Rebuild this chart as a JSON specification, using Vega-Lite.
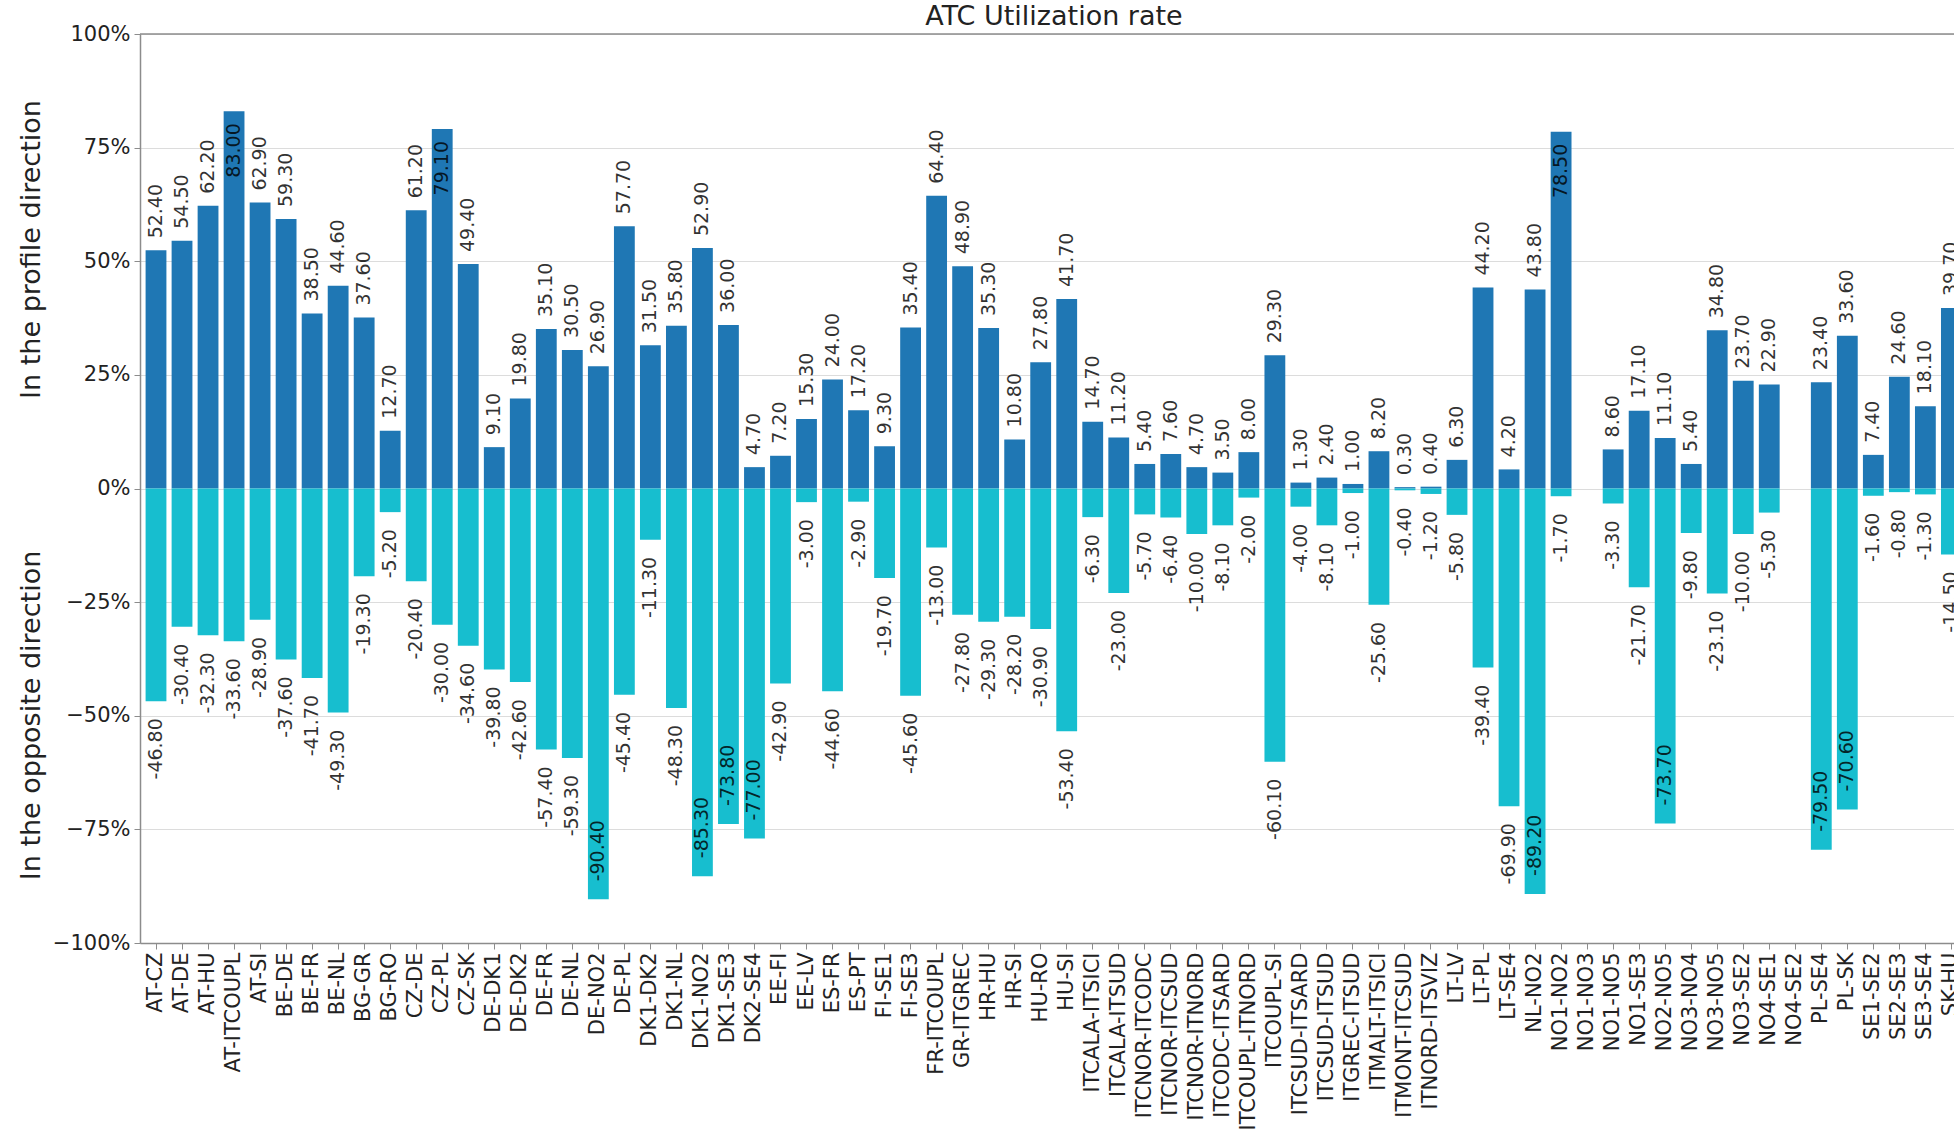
{
  "$schema": "https://vega.github.io/schema/vega-lite/v6.json",
  "autosize": {"type": "none"},
  "width": 1814,
  "height": 909,
  "padding": {"left": 140, "top": 34, "right": 0, "bottom": 195},
  "background": "white",
  "title": {"text": "ATC Utilization rate", "fontSize": 27, "fontWeight": "normal", "color": "#222", "anchor": "middle", "frame": "group", "dx": 7, "offset": -8},
  "config": {
    "font": "DejaVu Sans",
    "view": {"stroke": null},
    "locale": {"number": {"decimal": ".", "thousands": ",", "grouping": [3], "currency": ["$", ""], "minus": "-"}}
  },
  "datasets": {
    "spine": [{"top": 100}]
  },
  "data": {"values": [
    {"border": "AT-CZ", "profile": 52.4, "opposite": -46.8},
    {"border": "AT-DE", "profile": 54.5, "opposite": -30.4},
    {"border": "AT-HU", "profile": 62.2, "opposite": -32.3},
    {"border": "AT-ITCOUPL", "profile": 83.0, "opposite": -33.6},
    {"border": "AT-SI", "profile": 62.9, "opposite": -28.9},
    {"border": "BE-DE", "profile": 59.3, "opposite": -37.6},
    {"border": "BE-FR", "profile": 38.5, "opposite": -41.7},
    {"border": "BE-NL", "profile": 44.6, "opposite": -49.3},
    {"border": "BG-GR", "profile": 37.6, "opposite": -19.3},
    {"border": "BG-RO", "profile": 12.7, "opposite": -5.2},
    {"border": "CZ-DE", "profile": 61.2, "opposite": -20.4},
    {"border": "CZ-PL", "profile": 79.1, "opposite": -30.0},
    {"border": "CZ-SK", "profile": 49.4, "opposite": -34.6},
    {"border": "DE-DK1", "profile": 9.1, "opposite": -39.8},
    {"border": "DE-DK2", "profile": 19.8, "opposite": -42.6},
    {"border": "DE-FR", "profile": 35.1, "opposite": -57.4},
    {"border": "DE-NL", "profile": 30.5, "opposite": -59.3},
    {"border": "DE-NO2", "profile": 26.9, "opposite": -90.4},
    {"border": "DE-PL", "profile": 57.7, "opposite": -45.4},
    {"border": "DK1-DK2", "profile": 31.5, "opposite": -11.3},
    {"border": "DK1-NL", "profile": 35.8, "opposite": -48.3},
    {"border": "DK1-NO2", "profile": 52.9, "opposite": -85.3},
    {"border": "DK1-SE3", "profile": 36.0, "opposite": -73.8},
    {"border": "DK2-SE4", "profile": 4.7, "opposite": -77.0},
    {"border": "EE-FI", "profile": 7.2, "opposite": -42.9},
    {"border": "EE-LV", "profile": 15.3, "opposite": -3.0},
    {"border": "ES-FR", "profile": 24.0, "opposite": -44.6},
    {"border": "ES-PT", "profile": 17.2, "opposite": -2.9},
    {"border": "FI-SE1", "profile": 9.3, "opposite": -19.7},
    {"border": "FI-SE3", "profile": 35.4, "opposite": -45.6},
    {"border": "FR-ITCOUPL", "profile": 64.4, "opposite": -13.0},
    {"border": "GR-ITGREC", "profile": 48.9, "opposite": -27.8},
    {"border": "HR-HU", "profile": 35.3, "opposite": -29.3},
    {"border": "HR-SI", "profile": 10.8, "opposite": -28.2},
    {"border": "HU-RO", "profile": 27.8, "opposite": -30.9},
    {"border": "HU-SI", "profile": 41.7, "opposite": -53.4},
    {"border": "ITCALA-ITSICI", "profile": 14.7, "opposite": -6.3},
    {"border": "ITCALA-ITSUD", "profile": 11.2, "opposite": -23.0},
    {"border": "ITCNOR-ITCODC", "profile": 5.4, "opposite": -5.7},
    {"border": "ITCNOR-ITCSUD", "profile": 7.6, "opposite": -6.4},
    {"border": "ITCNOR-ITNORD", "profile": 4.7, "opposite": -10.0},
    {"border": "ITCODC-ITSARD", "profile": 3.5, "opposite": -8.1},
    {"border": "ITCOUPL-ITNORD", "profile": 8.0, "opposite": -2.0},
    {"border": "ITCOUPL-SI", "profile": 29.3, "opposite": -60.1},
    {"border": "ITCSUD-ITSARD", "profile": 1.3, "opposite": -4.0},
    {"border": "ITCSUD-ITSUD", "profile": 2.4, "opposite": -8.1},
    {"border": "ITGREC-ITSUD", "profile": 1.0, "opposite": -1.0},
    {"border": "ITMALT-ITSICI", "profile": 8.2, "opposite": -25.6},
    {"border": "ITMONT-ITCSUD", "profile": 0.3, "opposite": -0.4},
    {"border": "ITNORD-ITSVIZ", "profile": 0.4, "opposite": -1.2},
    {"border": "LT-LV", "profile": 6.3, "opposite": -5.8},
    {"border": "LT-PL", "profile": 44.2, "opposite": -39.4},
    {"border": "LT-SE4", "profile": 4.2, "opposite": -69.9},
    {"border": "NL-NO2", "profile": 43.8, "opposite": -89.2},
    {"border": "NO1-NO2", "profile": 78.5, "opposite": -1.7},
    {"border": "NO1-NO3", "profile": null, "opposite": null},
    {"border": "NO1-NO5", "profile": 8.6, "opposite": -3.3},
    {"border": "NO1-SE3", "profile": 17.1, "opposite": -21.7},
    {"border": "NO2-NO5", "profile": 11.1, "opposite": -73.7},
    {"border": "NO3-NO4", "profile": 5.4, "opposite": -9.8},
    {"border": "NO3-NO5", "profile": 34.8, "opposite": -23.1},
    {"border": "NO3-SE2", "profile": 23.7, "opposite": -10.0},
    {"border": "NO4-SE1", "profile": 22.9, "opposite": -5.3},
    {"border": "NO4-SE2", "profile": null, "opposite": null},
    {"border": "PL-SE4", "profile": 23.4, "opposite": -79.5},
    {"border": "PL-SK", "profile": 33.6, "opposite": -70.6},
    {"border": "SE1-SE2", "profile": 7.4, "opposite": -1.6},
    {"border": "SE2-SE3", "profile": 24.6, "opposite": -0.8},
    {"border": "SE3-SE4", "profile": 18.1, "opposite": -1.3},
    {"border": "SK-HU", "profile": 39.7, "opposite": -14.5}
  ]},
  "layer": [
    {
      "data": {"name": "spine"},
      "mark": {"type": "rule", "color": "#8c8c8c", "strokeWidth": 1.5},
      "encoding": {
        "y": {"field": "top", "type": "quantitative", "scale": {"domain": [-100, 100], "nice": false}, "axis": null}
      }
    },
    {
      "mark": {"type": "bar", "color": "#1f77b4"},
      "encoding": {
        "x": {
          "field": "border", "type": "nominal", "title": null,
          "scale": {"domain": ["AT-CZ","AT-DE","AT-HU","AT-ITCOUPL","AT-SI","BE-DE","BE-FR","BE-NL","BG-GR","BG-RO","CZ-DE","CZ-PL","CZ-SK","DE-DK1","DE-DK2","DE-FR","DE-NL","DE-NO2","DE-PL","DK1-DK2","DK1-NL","DK1-NO2","DK1-SE3","DK2-SE4","EE-FI","EE-LV","ES-FR","ES-PT","FI-SE1","FI-SE3","FR-ITCOUPL","GR-ITGREC","HR-HU","HR-SI","HU-RO","HU-SI","ITCALA-ITSICI","ITCALA-ITSUD","ITCNOR-ITCODC","ITCNOR-ITCSUD","ITCNOR-ITNORD","ITCODC-ITSARD","ITCOUPL-ITNORD","ITCOUPL-SI","ITCSUD-ITSARD","ITCSUD-ITSUD","ITGREC-ITSUD","ITMALT-ITSICI","ITMONT-ITCSUD","ITNORD-ITSVIZ","LT-LV","LT-PL","LT-SE4","NL-NO2","NO1-NO2","NO1-NO3","NO1-NO5","NO1-SE3","NO2-NO5","NO3-NO4","NO3-NO5","NO3-SE2","NO4-SE1","NO4-SE2","PL-SE4","PL-SK","SE1-SE2","SE2-SE3","SE3-SE4","SK-HU"],
            "range": [0, 1827.4], "paddingInner": 0.2, "paddingOuter": 0.215},
          "axis": {"labelAngle": 270, "labelFontSize": 21, "labelColor": "#222", "labelPadding": 3, "tickSize": 6, "tickColor": "#8c8c8c", "domainColor": "#8c8c8c", "domainWidth": 1.5, "labelOverlap": false, "labelLimit": 0, "grid": false}
        },
        "y": {"field": "profile", "type": "quantitative", "scale": {"domain": [-100, 100], "nice": false},
          "axis": {"title": "In the profile direction", "values": [-100, -75, -50, -25, 0, 25, 50, 75, 100], "format": "d", "labelExpr": "replace(datum.label, '-', '\u2212') + '%'", "labelFontSize": 21, "labelColor": "#222", "tickSize": 6, "tickColor": "#8c8c8c", "labelPadding": 4, "domainColor": "#8c8c8c", "domainWidth": 1.5, "grid": true, "gridColor": "#dcdcdc", "gridWidth": 1, "titleFontSize": 27, "titleFontWeight": "normal", "titleColor": "#222", "titleX": -109, "titleY": 215, "titleAngle": 270, "titleAlign": "center", "titleBaseline": "middle"}}
      }
    },
    {
      "mark": {"type": "bar", "color": "#17becf"},
      "encoding": {
        "x": {"field": "border", "type": "nominal", "title": null},
        "y": {"field": "opposite", "type": "quantitative", "scale": {"domain": [-100, 100], "nice": false},
          "axis": {"orient": "left", "title": "In the opposite direction", "labels": false, "ticks": false, "domain": false, "grid": false, "titleFontSize": 27, "titleFontWeight": "normal", "titleColor": "#222", "titleX": -109, "titleY": 681, "titleAngle": 270, "titleAlign": "center", "titleBaseline": "middle"}}
      }
    },
    {
      "transform": [{"filter": "datum.profile != null && datum.profile <= 70"}],
      "mark": {"type": "text", "angle": 270, "align": "left", "baseline": "middle", "dx": 12, "fontSize": 19, "fill": "#000", "opacity": 0.8},
      "encoding": {
        "x": {"field": "border", "type": "nominal", "title": null},
        "y": {"field": "profile", "type": "quantitative", "axis": null},
        "text": {"field": "profile", "type": "quantitative", "format": ".2f"}
      }
    },
    {
      "transform": [{"filter": "datum.profile != null && datum.profile > 70"}],
      "mark": {"type": "text", "angle": 270, "align": "right", "baseline": "middle", "dx": -12, "fontSize": 19, "fill": "#000", "opacity": 0.8},
      "encoding": {
        "x": {"field": "border", "type": "nominal", "title": null},
        "y": {"field": "profile", "type": "quantitative", "axis": null},
        "text": {"field": "profile", "type": "quantitative", "format": ".2f"}
      }
    },
    {
      "transform": [{"filter": "datum.opposite != null && datum.opposite >= -70"}],
      "mark": {"type": "text", "angle": 270, "align": "right", "baseline": "middle", "dx": -17, "fontSize": 19, "fill": "#000", "opacity": 0.8},
      "encoding": {
        "x": {"field": "border", "type": "nominal", "title": null},
        "y": {"field": "opposite", "type": "quantitative", "axis": null},
        "text": {"field": "opposite", "type": "quantitative", "format": ".2f"}
      }
    },
    {
      "transform": [{"filter": "datum.opposite != null && datum.opposite < -70"}],
      "mark": {"type": "text", "angle": 270, "align": "left", "baseline": "middle", "dx": 18, "fontSize": 19, "fill": "#000", "opacity": 0.8},
      "encoding": {
        "x": {"field": "border", "type": "nominal", "title": null},
        "y": {"field": "opposite", "type": "quantitative", "axis": null},
        "text": {"field": "opposite", "type": "quantitative", "format": ".2f"}
      }
    }
  ],
  "resolve": {"axis": {"y": "independent"}}
}
